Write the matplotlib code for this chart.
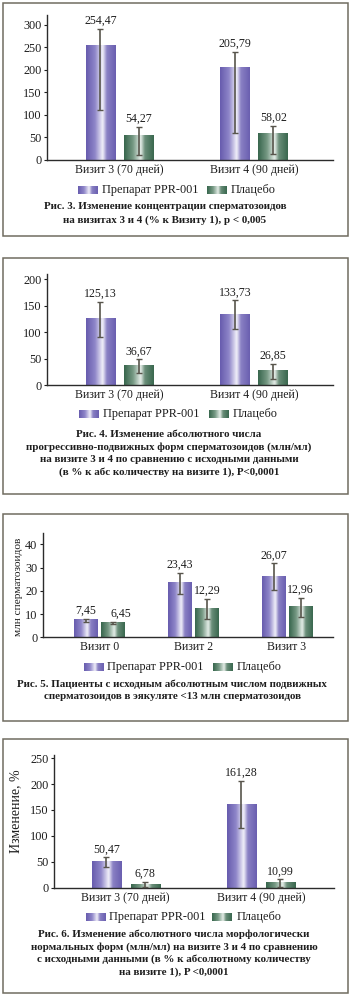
import matplotlib
matplotlib.use('Agg')
import matplotlib.pyplot as plt
from matplotlib.colors import LinearSegmentedColormap
from matplotlib.patches import Rectangle
import numpy as np

plt.rcParams['font.family'] = ['Liberation Serif', 'DejaVu Serif']

# ---- data ----
legend_labels = ['Препарат PPR-001', 'Плацебо']

# Fig. 3
p1_cats = ['Визит 3 (70 дней)', 'Визит 4 (90 дней)']
p1_drug = [254.47, 205.79]
p1_drug_lo = [111, 61]
p1_drug_hi = [291, 240]
p1_plac = [54.27, 58.02]
p1_plac_lo = [10, 12.6]
p1_plac_hi = [73, 76.5]
p1_ticks = [0, 50, 100, 150, 200, 250, 300]
p1_caption = ['Рис. 3. Изменение концентрации сперматозоидов',
              'на визитах 3 и 4 (% к Визиту 1), p < 0,005']

# Fig. 4
p2_cats = ['Визит 3 (70 дней)', 'Визит 4 (90 дней)']
p2_drug = [125.13, 133.73]
p2_drug_lo = [90.6, 107]
p2_drug_hi = [156.6, 160]
p2_plac = [36.67, 26.85]
p2_plac_lo = [24, 12]
p2_plac_hi = [49, 41]
p2_ticks = [0, 50, 100, 150, 200]
p2_caption = ['Рис. 4. Изменение абсолютного числа',
              'прогрессивно-подвижных форм сперматозоидов (млн/мл)',
              'на визите 3 и 4 по сравнению с исходными данными',
              '(в % к абс количеству на визите 1), P<0,0001']

# Fig. 5
p3_cats = ['Визит 0', 'Визит 2', 'Визит 3']
p3_drug = [7.45, 23.43, 26.07]
p3_drug_lo = [6.7, 18.5, 20.4]
p3_drug_hi = [7.9, 27.8, 31.8]
p3_plac = [6.45, 12.29, 12.96]
p3_plac_lo = [5.6, 7.9, 8.9]
p3_plac_hi = [6.7, 16.5, 16.8]
p3_ticks = [0, 10, 20, 30, 40]
p3_ylabel = 'млн сперматозоидов'
p3_caption = ['Рис. 5. Пациенты с исходным абсолютным числом подвижных',
              'сперматозоидов в эякуляте <13 млн сперматозоидов']

# Fig. 6
p4_cats = ['Визит 3 (70 дней)', 'Визит 4 (90 дней)']
p4_drug = [50.47, 161.28]
p4_drug_lo = [39, 114.7]
p4_drug_hi = [58.6, 206.8]
p4_plac = [6.78, 10.99]
p4_plac_lo = [0.6, 2]
p4_plac_hi = [11.6, 16]
p4_ticks = [0, 50, 100, 150, 200, 250]
p4_ylabel = 'Изменение, %'
p4_caption = ['Рис. 6. Изменение абсолютного числа морфологически',
              'нормальных форм (млн/мл) на визите 3 и 4 по сравнению',
              'с исходными данными (в % к абсолютному количеству',
              'на визите 1), P <0,0001']

W, H = 350, 996
purple = LinearSegmentedColormap.from_list('purple', [
    (0, '#675cae'), (0.3, '#8f86c9'), (0.56, '#f2f1fa'), (0.7, '#8a81c4'), (1, '#6a5fb0')])
green = LinearSegmentedColormap.from_list('green', [
    (0, '#38664d'), (0.3, '#769984'), (0.56, '#e6eee9'), (0.7, '#6a8e79'), (1, '#3a684f')])
grad = np.linspace(0, 1, 64).reshape(1, -1)
err_col = '#58554c'
txt_col = '#1e1e1e'


def fmt(v):
    return f'{v:.2f}'.replace('.', ',')


def px_rect(left, top, right, bottom):
    """ pixel box (y down) -> figure fraction rect """
    return [left / W, 1 - bottom / H, (right - left) / W, (bottom - top) / H]


def gradient_bars(ax, bars, cmap):
    for b in bars:
        x0, w, h = b.get_x(), b.get_width(), b.get_height()
        ax.imshow(grad, extent=[x0, x0 + w, 0, h], cmap=cmap, aspect='auto',
                  interpolation='bicubic', zorder=2)


def panel(fig, rect, cats, drug, dlo, dhi, plac, plo, phi, ticks, ylim, xlim,
          width, offset, label_dx=None, ylabel=None, ylabel_xy=(-0.1, 0.5), ylabel_size=8):
    ax = fig.add_axes(rect, zorder=2)
    ax.set_facecolor('none')
    x = np.arange(len(cats))
    b1 = ax.bar(x - offset / 2, drug, width, facecolor='none', edgecolor='none')
    b2 = ax.bar(x + offset / 2, plac, width, facecolor='none', edgecolor='none')
    gradient_bars(ax, b1, purple)
    gradient_bars(ax, b2, green)

    drug, plac = np.array(drug), np.array(plac)
    ax.errorbar(x - offset / 2, drug, yerr=[drug - np.array(dlo), np.array(dhi) - drug],
                fmt='none', ecolor=err_col, elinewidth=1.2, capsize=2, capthick=1, zorder=3)
    ax.errorbar(x + offset / 2, plac, yerr=[plac - np.array(plo), np.array(phi) - plac],
                fmt='none', ecolor=err_col, elinewidth=1.2, capsize=2, capthick=1, zorder=3)

    if label_dx is None:
        label_dx = [0] * (2 * len(cats))
    for i in range(len(cats)):
        ax.annotate(fmt(drug[i]), (x[i] - offset / 2, dhi[i]), xytext=(label_dx[2 * i], 1.5),
                    textcoords='offset points', ha='center', va='bottom', fontsize=8.6,
                    color=txt_col)
        ax.annotate(fmt(plac[i]), (x[i] + offset / 2, phi[i]), xytext=(label_dx[2 * i + 1], 1.5),
                    textcoords='offset points', ha='center', va='bottom', fontsize=8.6,
                    color=txt_col)

    ax.set_xlim(*xlim)
    ax.set_ylim(*ylim)
    ax.set_yticks(ticks)
    ax.set_xticks(x)
    ax.set_xticklabels(cats)
    for s in ['top', 'right']:
        ax.spines[s].set_visible(False)
    for s in ['left', 'bottom']:
        ax.spines[s].set_color('#2b2b2b')
        ax.spines[s].set_linewidth(1.0)
    ax.tick_params(axis='y', direction='out', length=2.5, width=0.8, labelsize=8.8,
                   pad=1.5, colors=txt_col)
    ax.tick_params(axis='x', length=0, labelsize=8.5, pad=3, colors=txt_col)
    if ylabel:
        ax.set_ylabel(ylabel, fontsize=ylabel_size, color=txt_col)
        ax.yaxis.set_label_coords(*ylabel_xy)
    return ax


fig = plt.figure(figsize=(W / 100, H / 100), dpi=100)
bg = fig.add_axes([0, 0, 1, 1], zorder=0)
bg.axis('off')

# bordered boxes
boxes = [(3, 236), (258, 494), (514, 721), (739, 993)]
for top, bottom in boxes:
    bg.add_patch(Rectangle((2.5, top), 345, bottom - top, facecolor='white',
                           edgecolor='#706c60', linewidth=1.1))


def legend(y, sx1, tx1, sx2, tx2):
    bg.imshow(grad, extent=[sx1, sx1 + 20, y + 4, y - 4], cmap=purple, aspect='auto',
              interpolation='bicubic', zorder=2)
    bg.imshow(grad, extent=[sx2, sx2 + 20, y + 4, y - 4], cmap=green, aspect='auto',
              interpolation='bicubic', zorder=2)
    bg.text(tx1, y, legend_labels[0], fontsize=8.8, va='center', ha='left', color=txt_col)
    bg.text(tx2, y, legend_labels[1], fontsize=8.8, va='center', ha='left', color=txt_col)


def caption(lines, cx, y0, step=12.7):
    for i, line in enumerate(lines):
        bg.text(cx, y0 + i * step, line, fontsize=7.9, fontweight='bold', ha='center',
                va='center', color=txt_col)


# Fig. 3
panel(fig, px_rect(47, 15, 333, 160), p1_cats, p1_drug, p1_drug_lo, p1_drug_hi,
      p1_plac, p1_plac_lo, p1_plac_hi, p1_ticks, (0, 322), (-0.539, 1.587), 0.22, 0.285)
legend(190, 78, 102, 207, 231)
caption(p1_caption, 165, 206, 13.7)

# Fig. 4
panel(fig, px_rect(47, 274, 333, 385.3), p2_cats, p2_drug, p2_drug_lo, p2_drug_hi,
      p2_plac, p2_plac_lo, p2_plac_hi, p2_ticks, (0, 210), (-0.539, 1.587), 0.22, 0.285)
legend(414, 79, 103, 209, 233)
caption(p2_caption, 169, 434)

# Fig. 5
panel(fig, px_rect(43, 532.7, 333, 637.3), p3_cats, p3_drug, p3_drug_lo, p3_drug_hi,
      p3_plac, p3_plac_lo, p3_plac_hi, p3_ticks, (0, 45), (-0.603, 2.49), 0.255, 0.288,
      label_dx=[0, 6, 0, 0, 0, 0], ylabel=p3_ylabel, ylabel_xy=(-0.069, 0.48),
      ylabel_size=8.2)
legend(667, 84, 107, 213, 237)
caption(p3_caption, 172, 684)

# Fig. 6
panel(fig, px_rect(54, 755, 334, 887.7), p4_cats, p4_drug, p4_drug_lo, p4_drug_hi,
      p4_plac, p4_plac_lo, p4_plac_hi, p4_ticks, (0, 256), (-0.530, 1.540), 0.215, 0.288,
      ylabel=p4_ylabel, ylabel_xy=(-0.114, 0.58), ylabel_size=10)
legend(917, 86, 109, 212, 237)
caption(p4_caption, 174, 934)

bg.set_xlim(0, W)
bg.set_ylim(H, 0)

fig.savefig('out.png', dpi=100)
